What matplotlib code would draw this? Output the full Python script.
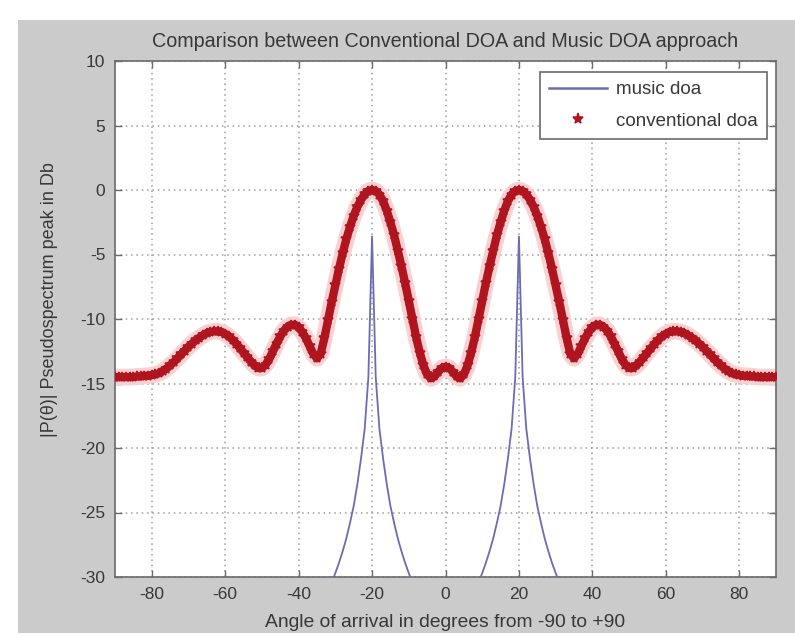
import numpy as np
import matplotlib
matplotlib.use("Agg")
import matplotlib.pyplot as plt
from matplotlib.lines import Line2D
from matplotlib.patches import Rectangle

# angles in degrees, 1 degree steps
conv_angle = np.arange(-90, 91)
# conventional (Bartlett) beamformer, dB
conv_db = [
    -14.5, -14.5, -14.5, -14.5, -14.5, -14.5, -14.45, -14.45, -14.4, -14.4,
    -14.35, -14.3, -14.2, -14.05, -13.85, -13.6, -13.35, -13.05, -12.75, -12.45,
    -12.15, -11.9, -11.65, -11.45, -11.25, -11.1, -11.0, -10.95, -10.95, -11.0,
    -11.15, -11.35, -11.6, -11.9, -12.25, -12.6, -12.95, -13.3, -13.6, -13.8,
    -13.8, -13.55, -13.1, -12.5, -11.9, -11.35, -10.9, -10.6, -10.45, -10.45,
    -10.65, -11.0, -11.5, -12.1, -12.7, -13.05, -12.7, -11.5, -10.1, -8.7,
    -7.4, -6.1, -4.9, -3.8, -2.85, -2.0, -1.3, -0.75, -0.33, -0.08,
    0.0, -0.08, -0.35, -0.85, -1.6, -2.5, -3.5, -4.7, -5.9, -7.2,
    -8.6, -10.0, -11.4, -12.6, -13.6, -14.3, -14.6, -14.45, -14.1, -13.8,
    -13.7,
    -13.8, -14.1, -14.45, -14.6, -14.3, -13.6, -12.6, -11.4, -10.0, -8.6,
    -7.2, -5.9, -4.7, -3.5, -2.5, -1.6, -0.85, -0.35, -0.08, 0.0,
    -0.08, -0.33, -0.75, -1.3, -2.0, -2.85, -3.8, -4.9, -6.1, -7.4,
    -8.7, -10.1, -11.5, -12.7, -13.05, -12.7, -12.1, -11.5, -11.0, -10.65,
    -10.45, -10.45, -10.6, -10.9, -11.35, -11.9, -12.5, -13.1, -13.55, -13.8,
    -13.8, -13.6, -13.3, -12.95, -12.6, -12.25, -11.9, -11.6, -11.35, -11.15,
    -11.0, -10.95, -10.95, -11.0, -11.1, -11.25, -11.45, -11.65, -11.9, -12.15,
    -12.45, -12.75, -13.05, -13.35, -13.6, -13.85, -14.05, -14.2, -14.3, -14.35,
    -14.4, -14.4, -14.45, -14.45, -14.5, -14.5, -14.5, -14.5, -14.5, -14.5,
]

# MUSIC pseudospectrum, dB (only the part near the view matters)
music_angle = np.arange(-36, 37)
music_db = [
    -32.9, -32.5, -32.1, -31.6, -31.0, -30.4, -29.7, -28.9, -28.0, -27.0,
    -25.8, -24.5, -22.8, -20.8, -18.5, -14.5, -3.6, -14.5, -18.5, -20.8,
    -22.8, -24.5, -25.8, -27.0, -28.0, -28.9, -29.7, -30.4, -31.0, -31.6,
    -32.1, -32.5, -32.9, -33.2, -33.4, -33.5, -33.5, -33.5, -33.4, -33.2,
    -32.9, -32.5, -32.1, -31.6, -31.0, -30.4, -29.7, -28.9, -28.0, -27.0,
    -25.8, -24.5, -22.8, -20.8, -18.5, -14.5, -3.6, -14.5, -18.5, -20.8,
    -22.8, -24.5, -25.8, -27.0, -28.0, -28.9, -29.7, -30.4, -31.0, -31.6,
    -32.1, -32.5, -32.9,
]

xticks = [-80, -60, -40, -20, 0, 20, 40, 60, 80]
yticks = [-30, -25, -20, -15, -10, -5, 0, 5, 10]

plt.rcParams['font.family'] = ['Liberation Sans', 'DejaVu Sans']
plt.rcParams['axes.unicode_minus'] = False
txt = '#383838'
red = '#b0141f'

fig = plt.figure(figsize=(7.95, 6.37), dpi=100, facecolor='white')
# grey matlab figure window area
fig.patches.append(Rectangle((18 / 795, 4 / 637), 1 - 18 / 795, (637 - 24) / 637,
                             transform=fig.transFigure, facecolor='#cbcbcb',
                             edgecolor='none', zorder=-5))

ax = fig.add_axes([115 / 795, 60 / 637, 661 / 795, 516 / 637])
ax.set_facecolor('white')

ax.plot(music_angle, music_db, color='#6c6cb2', lw=1.3, zorder=3)
# soft halo + solid core under the star markers
ax.plot(conv_angle, conv_db, color='#f8d2d2', lw=12, solid_capstyle='butt', zorder=2)
ax.plot(conv_angle, conv_db, color=red, lw=6, zorder=3)
ax.plot(conv_angle, conv_db, linestyle='none', marker='*', color=red,
        markersize=7.5, markeredgewidth=1.1, zorder=4)

ax.set_xlim(-90, 90)
ax.set_ylim(-30, 10)
ax.set_xticks(xticks)
ax.set_yticks(yticks)
ax.grid(True, color='#9c9c9c', linestyle=(0, (1, 2.5)), linewidth=1.1)
ax.set_axisbelow(True)
ax.tick_params(direction='in', top=True, right=True, length=5, width=1,
               color='#6a6a6a', labelsize=12.5, labelcolor=txt, pad=7)
for s in ax.spines.values():
    s.set_color('#6a6a6a')
    s.set_linewidth(1.2)

ax.set_title('Comparison between Conventional DOA and Music DOA approach',
             fontsize=14.2, color=txt, pad=10)
ax.set_xlabel('Angle of arrival in degrees from -90 to +90', fontsize=13.9,
              color=txt, labelpad=9)
ax.set_ylabel('|P(θ)| Pseudospectrum peak in Db', fontsize=13, color=txt)
ax.yaxis.set_label_coords(-0.086, 0.537)

handles = [Line2D([], [], color='#6c6cb2', lw=1.8),
           Line2D([], [], color=red, marker='*', linestyle='none',
                  markersize=8, markeredgewidth=1.1)]
leg = ax.legend(handles, ['music doa', 'conventional doa'], loc='upper right',
                bbox_to_anchor=(0.986, 0.979), borderaxespad=0, fontsize=13.5,
                fancybox=False, framealpha=1, edgecolor='#6a6a6a',
                handlelength=3.1, handletextpad=0.45, labelspacing=0.75,
                borderpad=0.5)
leg.get_frame().set_linewidth(1.2)
for t in leg.get_texts():
    t.set_color(txt)

fig.savefig('out.png', dpi=100, facecolor=fig.get_facecolor())
